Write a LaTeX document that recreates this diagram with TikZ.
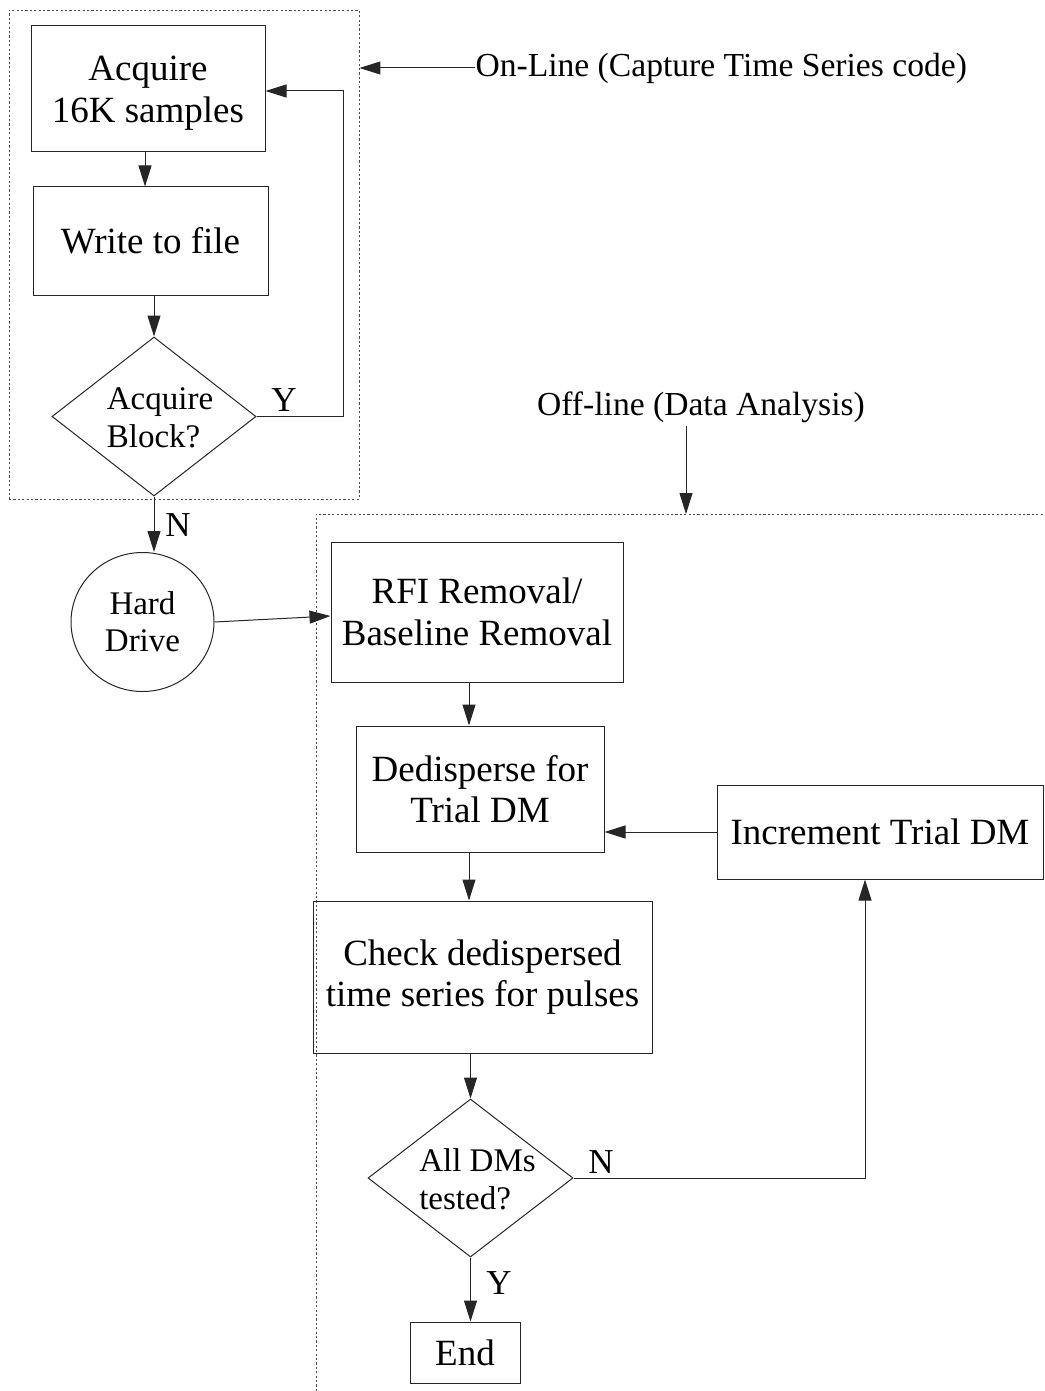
\documentclass[tikz,border=0pt]{standalone}
\usepackage{fontspec}
\setmainfont{Liberation Serif}
\usetikzlibrary{arrows.meta,shapes.geometric,calc}

\begin{document}
\begin{tikzpicture}[x=1pt,y=-1pt,
  line width=1pt, draw=black!85,
  arr/.style={-{Triangle[length=21pt,width=13pt]}},
  procbox/.style={draw, rectangle, inner sep=0pt, align=center,
                  font=\fontsize{37}{41.5}\selectfont},
  boxtext/.style={align=center, font=\fontsize{37}{41.5}\selectfont},
  decision/.style={draw, diamond, inner sep=0pt},
  decisiontext/.style={align=left, font=\fontsize{33}{38}\selectfont},
  lbl/.style={font=\fontsize{35}{40}\selectfont},
  heading/.style={font=\fontsize{33.6}{40}\selectfont},
  zoneframe/.style={draw=black!70, line width=0.9pt, dash pattern=on 2.2pt off 2.2pt},
]
\useasboundingbox (0,0) rectangle (1044,1391);

% on-line and off-line zones
\node[zoneframe, minimum width=350pt, minimum height=489pt, inner sep=0pt] (onzone) at (184,254.5) {};
\coordinate (offcorner) at (316,514);
\draw[zoneframe] (offcorner |- 0,1391) -- (offcorner) -- (1044,514);

% on-line acquisition loop
\node[procbox, minimum width=234pt, minimum height=126pt,
      label={[boxtext, yshift=-4pt]center:Acquire\\16K samples}] (acq) at (148,89) {};
\node[procbox, minimum width=235pt, minimum height=108pt] (write) at (150.5,241) {Write to file};
\node[decision, minimum width=204pt, minimum height=159pt,
      label={[decisiontext, xshift=6pt, yshift=-1pt]center:Acquire\\Block?}] (blk) at (154,416.5) {};
\node[draw, ellipse, minimum width=143pt, minimum height=139pt, inner sep=0pt, align=center,
      font=\fontsize{33}{37}\selectfont] (hd) at (142.5,622) {Hard\\Drive};

% off-line analysis chain
\node[procbox, minimum width=292pt, minimum height=140pt] (rfi) at (477,612) {RFI Removal/\\Baseline Removal};
\node[procbox, minimum width=248pt, minimum height=126pt] (ded) at (480,789) {Dedisperse for\\Trial DM};
\node[procbox, minimum width=326pt, minimum height=94pt] (inc) at (880,832) {Increment Trial DM};
\node[procbox, minimum width=339pt, minimum height=152pt] (chk) at (482.5,977) {Check dedispersed\\time series for pulses};
\node[decision, minimum width=205pt, minimum height=158pt,
      label={[decisiontext, xshift=7pt, yshift=-1pt]center:All DMs\\tested?}] (alldm) at (470.5,1178) {};
\node[procbox, minimum width=110pt, minimum height=61pt] (fin) at (465,1352.5) {End};

% headings
\node[heading, anchor=west, inner sep=0pt] (online) at (475,68) {On-Line (Capture Time Series code)};
\node[heading] (offline) at (701,407) {Off-line (Data Analysis)};
\coordinate (offtop) at (686,514);

% branch labels
\node[lbl] (ylabel1) at (284,400) {Y};
\node[lbl] (nlabel1) at (178,525) {N};
\node[lbl] (nlabel2) at (601,1162) {N};
\node[lbl] (ylabel2) at (499,1283) {Y};

% connectors
\draw[arr] (online.west) -- (online.west -| onzone.east);
\draw[arr] (offline.south -| offtop) -- (offtop);
\draw[arr] ([xshift=-3pt]acq.south) -- ([xshift=-3pt]acq.south |- write.north);
\draw[arr] ([xshift=3.5pt]write.south) -- (blk.north);
\draw[arr] (blk.east) -- ++(87,0) |- ([yshift=-2pt]acq.east);
\draw[arr] (blk.south) -- (blk.south |- hd.north);
\draw[arr] (hd.east) -- ([yshift=-4pt]rfi.west);
\draw[arr] ([xshift=-8pt]rfi.south) -- ([xshift=-8pt]rfi.south |- ded.north);
\draw[arr] (inc.west) -- (inc.west -| ded.east);
\draw[arr] ([xshift=-11pt]ded.south) -- ([xshift=-11pt]ded.south |- chk.north);
\draw[arr] (chk.south -| alldm.north) -- (alldm.north);
\draw[arr] (alldm.east) -| ([xshift=-15pt]inc.south);
\draw[arr] (alldm.south) -- (alldm.south |- fin.north);
\end{tikzpicture}
\end{document}
